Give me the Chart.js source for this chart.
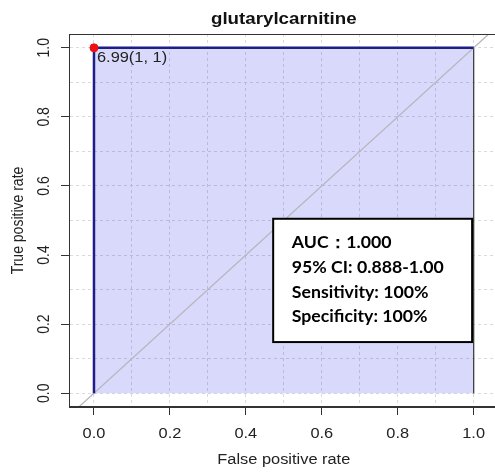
<!DOCTYPE html>
<html>
<head>
<meta charset="utf-8">
<script src="https://cdn.jsdelivr.net/npm/chart.js@4/dist/chart.umd.min.js"></script>
<style>
  html, body { margin: 0; padding: 0; background: #fff; overflow: hidden; }
  #wrap { width: 510px; height: 473px; }
</style>
</head>
<body>
<div id="wrap"><canvas id="chartCanvas" width="510" height="473"></canvas></div>
<script>
/********** DATA **********/
const chartTitle = "glutarylcarnitine";
const xTitle = "False positive rate";
const yTitle = "True positive rate";

// ROC curve (false positive rate, true positive rate)
const rocFpr = [0, 0, 1];
const rocTpr = [0, 1, 1];

// area under the curve polygon
const aucFpr = [0, 0, 1, 1];
const aucTpr = [0, 1, 1, 0];

// chance line
const chanceLine = [-0.1, 1.1];

// best threshold point
const bestFpr = [0];
const bestTpr = [1];
const bestLabel = "6.99(1, 1)";

// grid lines and labelled ticks
const gridValues = [0, 0.1, 0.2, 0.3, 0.4, 0.5, 0.6, 0.7, 0.8, 0.9, 1.0];
const tickValues = [0, 0.2, 0.4, 0.6, 0.8, 1.0];
const tickLabels = ["0.0", "0.2", "0.4", "0.6", "0.8", "1.0"];

const statsLines = ["AUC：1.000", "95% CI: 0.888-1.00", "Sensitivity: 100%", "Specificity: 100%"];

/********** HELPERS **********/
const STRETCH = 1.17; // the picture is a bit wider than tall
const textColor = "#222";

function toPoints(xs, ys) {
  return xs.map((x, i) => ({ x: x, y: ys[i] }));
}

function isLabelled(v) {
  return tickValues.some(t => Math.abs(t - v) < 1e-9);
}

function drawText(ctx, text, x, y, font, align, sx, rotate, color) {
  ctx.save();
  ctx.font = font;
  ctx.fillStyle = color || textColor;
  ctx.textAlign = align;
  ctx.textBaseline = "alphabetic";
  ctx.translate(x, y);
  ctx.scale(sx, 1);
  if (rotate) ctx.rotate(-Math.PI / 2);
  ctx.fillText(text, 0, 0);
  ctx.restore();
}

/********** TEXT + FRAME PLUGIN **********/
const decorPlugin = {
  id: "decor",
  afterDraw(chart) {
    const ctx = chart.ctx;
    const xs = chart.scales.x, ys = chart.scales.y;
    const area = chart.chartArea;
    const rFont = '14px "Liberation Sans", Arial, sans-serif';

    // box around the plot
    ctx.save();
    ctx.strokeStyle = "#333";
    ctx.lineWidth = 1;
    ctx.strokeRect(area.left + 0.5, area.top + 0.5, area.right - area.left - 1, area.bottom - area.top - 1);
    ctx.restore();

    const xMid = xs.getPixelForValue(0.5);
    const yMid = ys.getPixelForValue(0.5);

    drawText(ctx, chartTitle, xMid, 23.5, 'bold 16px "Liberation Sans", Arial, sans-serif', "center", STRETCH, false, "#111");

    tickValues.forEach((v, i) => {
      drawText(ctx, tickLabels[i], xs.getPixelForValue(v), area.bottom + 31, rFont, "center", STRETCH, false);
      drawText(ctx, tickLabels[i], area.left - 20, ys.getPixelForValue(v), rFont, "center", STRETCH, true);
    });

    drawText(ctx, xTitle, xMid, area.bottom + 57, rFont, "center", STRETCH, false);
    drawText(ctx, yTitle, area.left - 46, yMid, rFont, "center", STRETCH, true);

    // label next to the best point
    drawText(ctx, bestLabel, xs.getPixelForValue(bestFpr[0]) + 3, ys.getPixelForValue(bestTpr[0]) + 14, rFont, "left", STRETCH, false);

    // stats box
    const bx1 = xs.getPixelForValue(0.472), bx2 = xs.getPixelForValue(0.996);
    const by1 = ys.getPixelForValue(0.505), by2 = ys.getPixelForValue(0.148);
    ctx.save();
    ctx.fillStyle = "#fff";
    ctx.fillRect(bx1, by1, bx2 - bx1, by2 - by1);
    ctx.strokeStyle = "#000";
    ctx.lineWidth = 2;
    ctx.strokeRect(bx1, by1, bx2 - bx1, by2 - by1);
    ctx.restore();

    const sFont = 'bold 17px Lato, "Open Sans", sans-serif';
    ctx.save();
    ctx.font = sFont;
    const sx = 152 / ctx.measureText(statsLines[1]).width;
    ctx.restore();
    const tx = xs.getPixelForValue(0.521);
    const ty = ys.getPixelForValue(0.420);
    statsLines.forEach((line, i) => {
      drawText(ctx, line, tx, ty + i * 24.7, sFont, "left", sx, false, "#000");
    });
  }
};

/********** CHART **********/
const gridScale = (min, max) => ({
  type: "linear",
  min: min,
  max: max,
  afterBuildTicks: s => { s.ticks = gridValues.map(v => ({ value: v })); },
  ticks: { display: false },
  grid: {
    color: "#dadade",
    lineWidth: 1,
    drawTicks: true,
    tickLength: 8,
    tickWidth: 1,
    tickColor: c => (c.tick && isLabelled(c.tick.value)) ? "#333" : "rgba(0,0,0,0)"
  },
  border: { display: true, color: "#333", width: 1, dash: [3, 3] }
});

const xScale = gridScale(-0.0658, 1.08);
xScale.afterFit = s => { s.height = 66; };
const yScale = gridScale(-0.04, 1.04);
yScale.afterFit = s => { s.width = 69; };

new Chart(document.getElementById("chartCanvas").getContext("2d"), {
  type: "scatter",
  data: {
    datasets: [
      {
        label: "AUC",
        data: toPoints(aucFpr, aucTpr),
        showLine: true,
        fill: "origin",
        backgroundColor: "rgba(0, 0, 235, 0.15)",
        borderColor: "#444",
        borderWidth: 1,
        pointRadius: 0,
        order: 4
      },
      {
        label: "chance",
        data: toPoints(chanceLine, chanceLine),
        showLine: true,
        borderColor: "#b6b6c0",
        borderWidth: 1.3,
        pointRadius: 0,
        order: 3
      },
      {
        label: "ROC",
        data: toPoints(rocFpr, rocTpr),
        showLine: true,
        borderColor: "#1e1e8a",
        borderWidth: 2.5,
        pointRadius: 0,
        order: 2
      },
      {
        label: "best",
        data: toPoints(bestFpr, bestTpr),
        backgroundColor: "#ee1111",
        borderColor: "#ee1111",
        pointRadius: 4,
        order: 1
      }
    ]
  },
  options: {
    responsive: false,
    animation: false,
    layout: { padding: { top: 34, left: 0, right: 6, bottom: 0 } },
    plugins: { legend: { display: false }, tooltip: { enabled: false }, title: { display: false } },
    scales: { x: xScale, y: yScale }
  },
  plugins: [decorPlugin]
});
</script>
</body>
</html>
